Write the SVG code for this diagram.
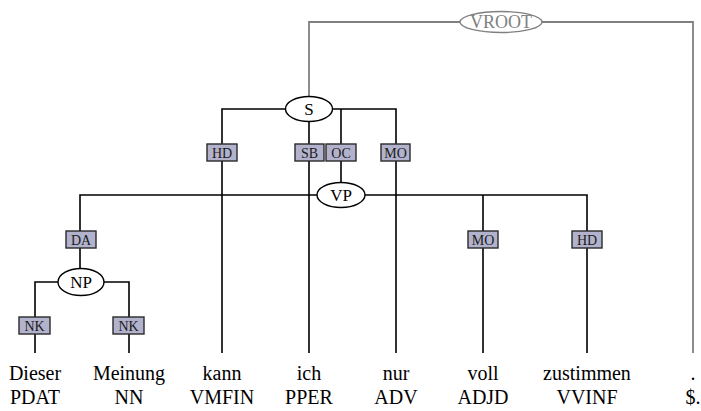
<svg xmlns="http://www.w3.org/2000/svg" width="701" height="411" viewBox="0 0 701 411">
<style>
.e{fill:none;stroke:#000;stroke-width:1.6}
.g{fill:none;stroke:#808080;stroke-width:1.8}
.n{fill:#fff;stroke:#000;stroke-width:1.4}
.nv{fill:#fff;stroke:#808080;stroke-width:1.4}
.b{fill:#b2b2cc;stroke:#2a2a2a;stroke-width:1.4}
text{font-family:"Liberation Serif","Times New Roman",serif;text-anchor:middle}
.nt{font-size:17px;fill:#000}
.vt{font-size:18px;fill:#808080}
.lt{font-size:14px;fill:#1a1a1a}
.w{font-size:20px;fill:#000}
</style>
<rect width="701" height="411" fill="#fff"/>
<g id="connectors">
<path class="g" d="M309,96V22H460M542,22H693V353"/>
<path class="e" d="M222,353V109H396V353M309,122V353M341,109V182"/>
<path class="e" d="M80,268V195H587V353M483,195V353"/>
<path class="e" d="M35,353V282H129V353"/>
</g>
<g id="VROOT"><ellipse class="nv" cx="501" cy="22" rx="41" ry="10.5"/><text class="vt" x="501" y="28">VROOT</text></g>
<g id="S"><ellipse class="n" cx="309" cy="109" rx="23.5" ry="12.5"/><text class="nt" x="309" y="115">S</text></g>
<g id="VP"><ellipse class="n" cx="341" cy="195" rx="24" ry="12.5"/><text class="nt" x="341" y="201">VP</text></g>
<g id="NP"><ellipse class="n" cx="81" cy="282" rx="23" ry="13.5"/><text class="nt" x="81" y="288">NP</text></g>
<g id="labels">
<g id="l-HD1"><rect class="b" x="207" y="144" width="30" height="17"/><text class="lt" x="222" y="157.5">HD</text></g>
<g id="l-SB"><rect class="b" x="295" y="144" width="29" height="17"/><text class="lt" x="309.5" y="157.5">SB</text></g>
<g id="l-OC"><rect class="b" x="326" y="144" width="30" height="17"/><text class="lt" x="341" y="157.5">OC</text></g>
<g id="l-MO1"><rect class="b" x="381" y="144" width="29" height="17"/><text class="lt" x="395.5" y="157.5">MO</text></g>
<g id="l-DA"><rect class="b" x="66" y="231" width="30" height="17"/><text class="lt" x="81" y="244.5">DA</text></g>
<g id="l-MO2"><rect class="b" x="468" y="231" width="30" height="17"/><text class="lt" x="483" y="244.5">MO</text></g>
<g id="l-HD2"><rect class="b" x="572" y="231" width="30" height="17"/><text class="lt" x="587" y="244.5">HD</text></g>
<g id="l-NK1"><rect class="b" x="19" y="317" width="31" height="17"/><text class="lt" x="34.5" y="330.5">NK</text></g>
<g id="l-NK2"><rect class="b" x="113" y="317" width="31" height="17"/><text class="lt" x="128.5" y="330.5">NK</text></g>
</g>
<g id="words">
<text class="w" x="35" y="380">Dieser</text><text class="w" x="35" y="404">PDAT</text>
<text class="w" x="129" y="380">Meinung</text><text class="w" x="129" y="404">NN</text>
<text class="w" x="222" y="380">kann</text><text class="w" x="222" y="404">VMFIN</text>
<text class="w" x="309" y="380">ich</text><text class="w" x="309" y="404">PPER</text>
<text class="w" x="396" y="380">nur</text><text class="w" x="396" y="404">ADV</text>
<text class="w" x="483" y="380">voll</text><text class="w" x="483" y="404">ADJD</text>
<text class="w" x="587" y="380">zustimmen</text><text class="w" x="587" y="404">VVINF</text>
<text class="w" x="693" y="380">.</text><text class="w" x="693" y="404">$.</text>
</g>
</svg>
